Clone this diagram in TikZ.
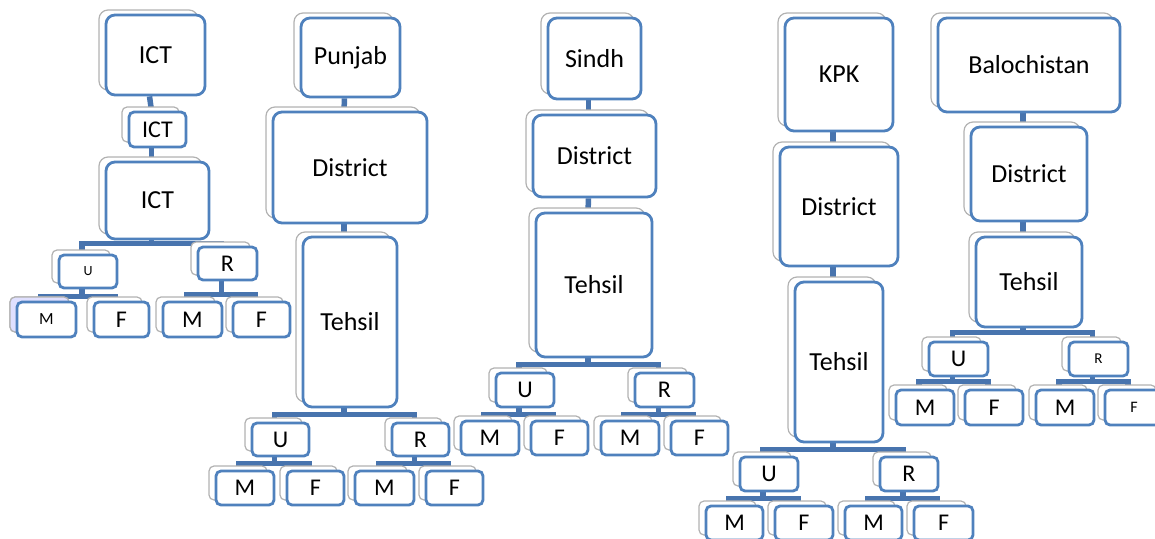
\documentclass[tikz,border=0pt]{standalone}
\usepackage{fontspec}
\setmainfont{Carlito}
\usetikzlibrary{shadows,backgrounds}
\definecolor{boxblue}{RGB}{79,129,189}
\definecolor{linkblue}{RGB}{72,116,174}

\begin{document}
\begin{tikzpicture}[x=1pt, y=-1pt,
    box/.style={draw=boxblue, line width=2.8pt, fill=white, rounded corners=9pt,
        inner sep=0pt, font=\fontsize{26}{30}\selectfont,
        copy shadow={shadow xshift=-7pt, shadow yshift=5pt,
            draw=gray!60, fill=white, line width=1.2pt}},
    leaf/.style={box, rounded corners=5pt, font=\fontsize{24}{28}\selectfont},
    link/.style={draw=linkblue, line width=5.5pt}]
\useasboundingbox (0,0) rectangle (1155,538);

% ICT
\node[box, minimum width=99, minimum height=80] (ict) at (155.5,55) {ICT};
\node[leaf, minimum width=57, minimum height=35] (ictD) at (157.5,129.5) {ICT};
\node[box, minimum width=103, minimum height=77] (ictT) at (157.5,200.5) {ICT};
\node[leaf, minimum width=58, minimum height=33, font=\fontsize{14}{16}\selectfont] (ictU) at (88,271.5) {U};
\node[leaf, minimum width=59, minimum height=33] (ictR) at (227.5,263.5) {R};
\node[leaf, minimum width=59, minimum height=35, font=\fontsize{17}{20}\selectfont,
    copy shadow={shadow xshift=-7pt, shadow yshift=5pt, draw=gray!60, fill=blue!12, line width=1.2pt}] (ictUM) at (46.5,319.5) {M};
\node[leaf, minimum width=55, minimum height=35] (ictUF) at (121.5,319.5) {F};
\node[leaf, minimum width=59, minimum height=35] (ictRM) at (192.5,319.5) {M};
\node[leaf, minimum width=57, minimum height=35] (ictRF) at (261.5,319.5) {F};

% Punjab
\node[box, minimum width=99, minimum height=79] (pun) at (350.5,57.5) {Punjab};
\node[box, minimum width=154, minimum height=111] (punD) at (350,167.5) {District};
\node[box, minimum width=94, minimum height=170] (punT) at (350,322) {Tehsil};
\node[leaf, minimum width=57, minimum height=33] (punU) at (280.5,439.5) {U};
\node[leaf, minimum width=57, minimum height=33] (punR) at (420.5,439.5) {R};
\node[leaf, minimum width=58, minimum height=34] (punUM) at (245,488) {M};
\node[leaf, minimum width=57, minimum height=34] (punUF) at (315.5,488) {F};
\node[leaf, minimum width=59, minimum height=34] (punRM) at (384.5,488) {M};
\node[leaf, minimum width=57, minimum height=34] (punRF) at (454.5,488) {F};

% Sindh
\node[box, minimum width=93, minimum height=81] (sin) at (594.5,58.5) {Sindh};
\node[box, minimum width=123, minimum height=82] (sinD) at (594.5,156) {District};
\node[box, minimum width=116, minimum height=144] (sinT) at (594,285) {Tehsil};
\node[leaf, minimum width=58, minimum height=34] (sinU) at (525,390) {U};
\node[leaf, minimum width=59, minimum height=34] (sinR) at (664.5,390) {R};
\node[leaf, minimum width=58, minimum height=34] (sinUM) at (490,438) {M};
\node[leaf, minimum width=57, minimum height=34] (sinUF) at (559.5,438) {F};
\node[leaf, minimum width=58, minimum height=34] (sinRM) at (630,438) {M};
\node[leaf, minimum width=57, minimum height=34] (sinRF) at (699.5,438) {F};

% KPK
\node[box, minimum width=108, minimum height=113] (kpk) at (839,74.5) {KPK};
\node[box, minimum width=118, minimum height=119] (kpkD) at (839,206.5) {District};
\node[box, minimum width=88, minimum height=160] (kpkT) at (839,362) {Tehsil};
\node[leaf, minimum width=58, minimum height=34] (kpkU) at (769,474) {U};
\node[leaf, minimum width=58, minimum height=34] (kpkR) at (909,474) {R};
\node[leaf, minimum width=57, minimum height=34] (kpkUM) at (734.5,523) {M};
\node[leaf, minimum width=58, minimum height=34] (kpkUF) at (804,523) {F};
\node[leaf, minimum width=57, minimum height=34] (kpkRM) at (873.5,523) {M};
\node[leaf, minimum width=59, minimum height=34] (kpkRF) at (943.5,523) {F};

% Balochistan
\node[box, minimum width=182, minimum height=94] (bal) at (1029,65) {Balochistan};
\node[box, minimum width=116, minimum height=94] (balD) at (1029,174) {District};
\node[box, minimum width=106, minimum height=90] (balT) at (1029,282) {Tehsil};
\node[leaf, minimum width=59, minimum height=34] (balU) at (958.5,359) {U};
\node[leaf, minimum width=59, minimum height=34, font=\fontsize{15}{18}\selectfont] (balR) at (1098.5,359) {R};
\node[leaf, minimum width=58, minimum height=35] (balUM) at (925,407.5) {M};
\node[leaf, minimum width=58, minimum height=35] (balUF) at (994,407.5) {F};
\node[leaf, minimum width=58, minimum height=35] (balRM) at (1065,407.5) {M};
\node[leaf, minimum width=58, minimum height=35, font=\fontsize{16}{19}\selectfont] (balRF) at (1134,407.5) {F};

\begin{scope}[on background layer]
% ICT links
\draw[link] ([xshift=-6pt]ict.south) -- ([xshift=-6pt]ictD.north);
\draw[link] ([xshift=-6pt]ictD.south) -- ([xshift=-6pt]ictT.north);
\draw[link] ([xshift=-6pt]ictT.south) -- ++(0,3) -| ([xshift=-6pt]ictU.north);
\draw[link] ([xshift=-6pt]ictT.south) -- ++(0,3) -| ([xshift=-6pt]ictR.north);
\draw[link] ([xshift=-6pt]ictU.south) -- ++(0,7) -| ([xshift=-6pt]ictUM.north);
\draw[link] ([xshift=-6pt]ictU.south) -- ++(0,7) -| ([xshift=-6pt]ictUF.north);
\draw[link] ([xshift=-6pt]ictR.south) -- ++(0,13) -| ([xshift=-6pt]ictRM.north);
\draw[link] ([xshift=-6pt]ictR.south) -- ++(0,13) -| ([xshift=-6pt]ictRF.north);
% province links
\foreach \p/\g in {pun/6,sin/6,kpk/6,bal/4}{
    \draw[link] ([xshift=-6pt]\p.south) -- ([xshift=-6pt]\p D.north);
    \draw[link] ([xshift=-6pt]\p D.south) -- ([xshift=-6pt]\p T.north);
    \draw[link] ([xshift=-6pt]\p T.south) -- ++(0,\g) -| ([xshift=-6pt]\p U.north);
    \draw[link] ([xshift=-6pt]\p T.south) -- ++(0,\g) -| ([xshift=-6pt]\p R.north);
    \draw[link] ([xshift=-6pt]\p U.south) -- ++(0,\g) -| ([xshift=-6pt]\p UM.north);
    \draw[link] ([xshift=-6pt]\p U.south) -- ++(0,\g) -| ([xshift=-6pt]\p UF.north);
    \draw[link] ([xshift=-6pt]\p R.south) -- ++(0,\g) -| ([xshift=-6pt]\p RM.north);
    \draw[link] ([xshift=-6pt]\p R.south) -- ++(0,\g) -| ([xshift=-6pt]\p RF.north);
}
\end{scope}
\end{tikzpicture}
\end{document}
